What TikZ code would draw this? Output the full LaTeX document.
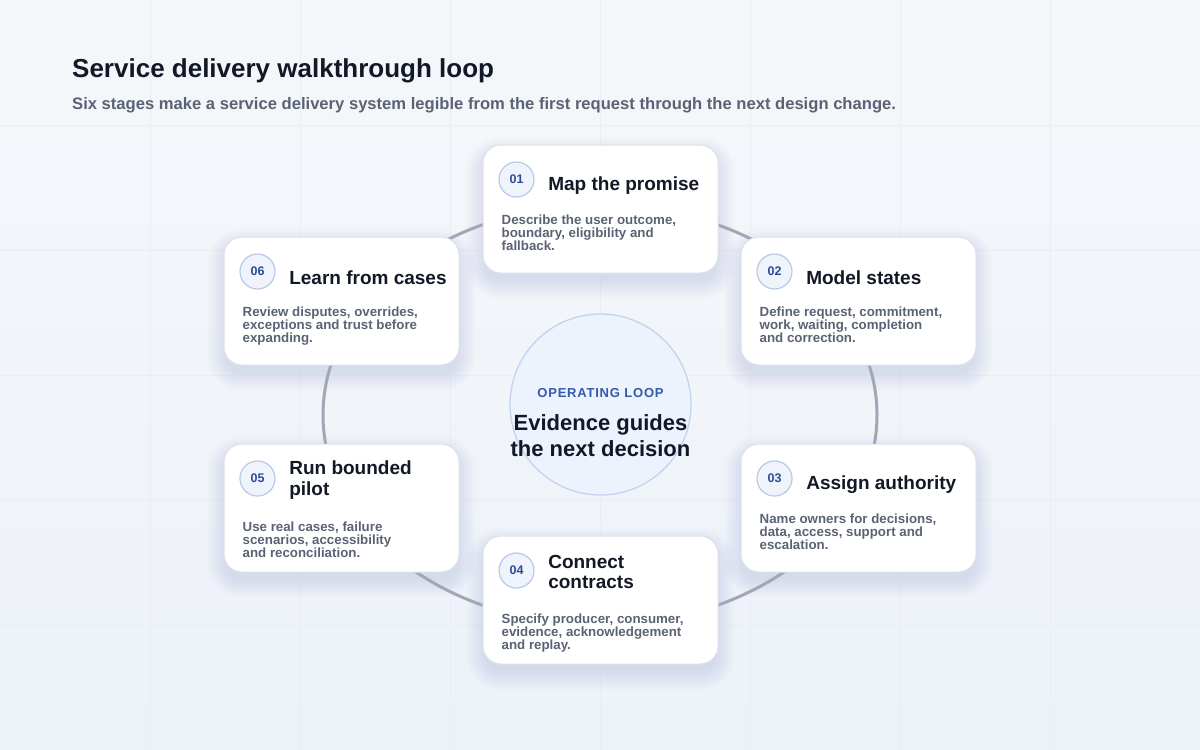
\documentclass[tikz,border=0pt]{standalone}
\usepackage{fontspec}
\setmainfont{Liberation Sans}
\usetikzlibrary{positioning,calc,backgrounds}

\definecolor{bgtop}{HTML}{F5F7FA}
\definecolor{bgbot}{HTML}{EDF2F9}
\definecolor{gridc}{HTML}{EAEEF4}
\definecolor{ringc}{HTML}{A1A8B5}
\definecolor{cardline}{HTML}{DCE2EB}
\definecolor{ink}{HTML}{121826}
\definecolor{muted}{HTML}{5A6374}
\definecolor{badgefill}{HTML}{EEF3FC}
\definecolor{badgeline}{HTML}{B9C9E6}
\definecolor{badgeink}{HTML}{2B4C9B}
\definecolor{hubfill}{HTML}{EDF3FD}
\definecolor{hubline}{HTML}{C2D3EE}
\definecolor{hubink}{HTML}{3559AE}
\definecolor{shadowc}{HTML}{56607A}

\begin{document}
\begin{tikzpicture}[x=1pt,y=-1pt,
   card/.style={rounded corners=18pt, fill=white, draw=cardline, line width=1pt,
      minimum width=235pt, minimum height=128pt, inner sep=0pt},
   badge/.style={circle, fill=badgefill, draw=badgeline, line width=1.2pt,
      minimum size=35pt, inner sep=0pt, text=badgeink,
      font=\bfseries\fontsize{12.5}{12.5}\selectfont},
   stagetitle/.style={inner sep=0pt, align=left, text=ink, yshift=-6pt,
      font=\bfseries\fontsize{19}{20.5}\selectfont},
   twoline/.style={yshift=4.5pt},
   stagetext/.style={anchor=north west, inner sep=0pt, align=left, text=muted,
      font=\bfseries\fontsize{13.3}{13.2}\selectfont},
   gridline/.style={draw=gridc, line width=.8pt},
   ring/.style={draw=ringc, line width=3pt},
   softshadow/.style={fill=shadowc, opacity=.008}
]
\useasboundingbox (0,0) rectangle (1200,750);

% heading
\node[anchor=base west, inner sep=0pt, text=ink, font=\bfseries\fontsize{26}{28}\selectfont]
   (heading) at (72,77) {Service delivery walkthrough loop};
\node[anchor=base west, inner sep=0pt, text=muted, font=\bfseries\fontsize{16.6}{18}\selectfont]
   (sub) at (72,109) {Six stages make a service delivery system legible from the first request through the next design change.};

% loop and hub
\draw[ring] (600,415) ellipse [x radius=277, y radius=210];
\node[circle, fill=hubfill, draw=hubline, line width=1.3pt, minimum size=181pt, inner sep=0pt]
   (hub) at (600.5,404.5) {};
\node[text=hubink, inner sep=0pt, font=\bfseries\fontsize{13}{13}\selectfont\addfontfeatures{LetterSpace=6}]
   (hubtag) at (600.5,393) {OPERATING LOOP};
\node[text=ink, inner sep=0pt, align=center, font=\bfseries\fontsize{22}{26}\selectfont]
   (hubtext) at (600.5,436) {Evidence guides\\the next decision};

% 01
\node[card] (c1) at (600.5,209) {};
\node[badge] (b1) at ($(c1.north west)+(34,35)$) {01};
\node[stagetitle, right=13.5pt of b1] (t1) {Map the promise};
\node[stagetext] (d1) at ($(c1.north west)+(19,70)$) {Describe the user outcome,\\boundary, eligibility and\\fallback.};

% 02
\node[card] (c2) at (858.5,301) {};
\node[badge] (b2) at ($(c2.north west)+(34,35)$) {02};
\node[stagetitle, right=13.5pt of b2] (t2) {Model states};
\node[stagetext] (d2) at ($(c2.north west)+(19,70)$) {Define request, commitment,\\work, waiting, completion\\and correction.};

% 03
\node[card] (c3) at (858.5,508) {};
\node[badge] (b3) at ($(c3.north west)+(34,35)$) {03};
\node[stagetitle, right=13.5pt of b3] (t3) {Assign authority};
\node[stagetext] (d3) at ($(c3.north west)+(19,70)$) {Name owners for decisions,\\data, access, support and\\escalation.};

% 04
\node[card] (c4) at (600.5,600) {};
\node[badge] (b4) at ($(c4.north west)+(34,35)$) {04};
\node[stagetitle, twoline, right=13.5pt of b4] (t4) {Connect\\contracts};
\node[stagetext] (d4) at ($(c4.north west)+(19,78)$) {Specify producer, consumer,\\evidence, acknowledgement\\and replay.};

% 05
\node[card] (c5) at (341.5,508) {};
\node[badge] (b5) at ($(c5.north west)+(34,35)$) {05};
\node[stagetitle, twoline, right=13.5pt of b5] (t5) {Run bounded\\pilot};
\node[stagetext] (d5) at ($(c5.north west)+(19,78)$) {Use real cases, failure\\scenarios, accessibility\\and reconciliation.};

% 06
\node[card] (c6) at (341.5,301) {};
\node[badge] (b6) at ($(c6.north west)+(34,35)$) {06};
\node[stagetitle, right=13.5pt of b6] (t6) {Learn from cases};
\node[stagetext] (d6) at ($(c6.north west)+(19,70)$) {Review disputes, overrides,\\exceptions and trust before\\expanding.};

% page, grid and card shadows behind everything
\begin{scope}[on background layer]
\shade[top color=bgtop, bottom color=bgbot] (0,0) rectangle (1200,750);
\foreach \gx in {150,300,...,1050} \draw[gridline] (\gx,0) -- (\gx,750);
\foreach \gy in {125,250,...,625} \draw[gridline] (0,\gy) -- (1200,\gy);
\foreach \c in {c1,c2,c3,c4,c5,c6}
   \foreach \k in {0,...,13} {
      \pgfmathsetmacro{\e}{1.5*\k-3}
      \pgfmathsetmacro{\r}{18+\e}
      \fill[softshadow, rounded corners=\r pt]
         ($(\c.north west)+(-\e,-\e+9)$) rectangle ($(\c.south east)+(\e,\e+9)$);
   }
\end{scope}
\end{tikzpicture}
\end{document}
